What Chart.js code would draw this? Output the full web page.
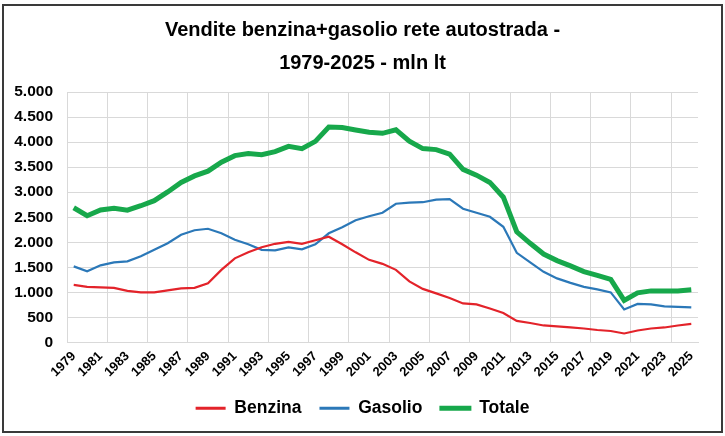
<!DOCTYPE html>
<html>
<head>
<meta charset="utf-8">
<script src="https://cdn.jsdelivr.net/npm/chart.js@4.4.1/dist/chart.umd.min.js"></script>
<style>
  html, body { margin: 0; padding: 0; background: #fff; }
</style>
</head>
<body>
<canvas id="chart" width="725" height="436"></canvas>
<script>
/* ---------- DATA ---------- */
const years = [
  1979, 1980, 1981, 1982, 1983, 1984, 1985, 1986, 1987, 1988, 1989, 1990,
  1991, 1992, 1993, 1994, 1995, 1996, 1997, 1998, 1999, 2000, 2001,
  2002, 2003, 2004, 2005, 2006, 2007, 2008, 2009, 2010, 2011, 2012, 2013,
  2014, 2015, 2016, 2017, 2018, 2019, 2020, 2021, 2022, 2023, 2024, 2025,
];
const benzina = [
  1150, 1110, 1100, 1090, 1030, 1000, 1000, 1040, 1080, 1090, 1180, 1450,
  1680, 1800, 1900, 1970, 2010, 1970, 2040, 2110, 1960, 1800, 1650,
  1570, 1450, 1220, 1070, 980, 890, 780, 760, 680, 590, 430, 390,
  340, 320, 300, 280, 250, 230, 180, 240, 280, 300, 340, 370,
];
const gasolio = [
  1520, 1420, 1540, 1600, 1620, 1720, 1850, 1980, 2150, 2240, 2270, 2180,
  2050, 1960, 1850, 1840, 1900, 1860, 1960, 2180, 2300, 2440, 2520,
  2590, 2770, 2790, 2800, 2850, 2860, 2670, 2590, 2510, 2310, 1790, 1600,
  1410, 1280, 1190, 1110, 1060, 1000, 660, 770, 760, 720, 710, 700,
];
const totale = [
  2690, 2530, 2645, 2680, 2640, 2730, 2830, 3005, 3195, 3325, 3420, 3600,
  3730, 3770, 3750, 3810, 3915, 3870, 4015, 4300, 4290, 4240, 4195,
  4175, 4245, 4020, 3870, 3850, 3760, 3455, 3340, 3195, 2900, 2210, 1980,
  1765, 1635, 1530, 1415, 1340, 1260, 840, 990, 1030, 1030, 1030, 1055,
];
const yTickLabels = [
  "0", "500", "1.000", "1.500", "2.000", "2.500",
  "3.000", "3.500", "4.000", "4.500", "5.000",
];
const titleLines = ["Vendite benzina+gasolio rete autostrada -", "1979-2025 - mln lt"];

/* ---------- STYLE ---------- */
const FONT = "'Liberation Sans', Arial, sans-serif";
const GRID = "#d9d9d9";
const RED = "#e3232a";
const BLUE = "#2b78b8";
const GREEN = "#17a84b";
const NONE = "rgba(0,0,0,0)";

// frame round the whole picture + white background
const framePlugin = {
  id: "frame",
  beforeDraw(chart) {
    const c = chart.ctx;
    c.save();
    c.fillStyle = "#fff";
    c.fillRect(0, 0, chart.width, chart.height);
    c.strokeStyle = "#3a3a3a";
    c.lineWidth = 2;
    c.strokeRect(3, 5, chart.width - 6, chart.height - 9);
    c.restore();
  },
};

const line = (label, data, color, width) => ({
  label,
  data,
  borderColor: color,
  backgroundColor: color,
  borderWidth: width,
  pointRadius: 0,
  tension: 0,
  fill: false,
  yAxisID: "y",
});

new Chart(document.getElementById("chart"), {
  type: "line",
  data: {
    labels: years,
    datasets: [
      line("Benzina", benzina, RED, 2.2),
      line("Gasolio", gasolio, BLUE, 2.2),
      line("Totale", totale, GREEN, 5),
    ],
  },
  plugins: [framePlugin],
  options: {
    responsive: false,
    animation: false,
    layout: { padding: { top: 0, left: 0, right: 0, bottom: 9 } },
    plugins: {
      title: {
        display: true,
        text: titleLines,
        color: "#000",
        font: { family: FONT, size: 20, weight: "bold", lineHeight: "33px" },
        padding: { top: 13.5, bottom: 12.5 },
      },
      legend: {
        position: "bottom",
        labels: {
          color: "#000",
          font: { family: FONT, size: 17.5, weight: "bold" },
          boxWidth: 30,
          boxHeight: 3,
          padding: 18,
          generateLabels: (chart) =>
            chart.data.datasets.map((ds, i) => ({
              text: ds.label,
              fillStyle: ds.borderColor,
              strokeStyle: ds.borderColor,
              lineWidth: ds.borderWidth > 3 ? 2 : 0,
              datasetIndex: i,
            })),
        },
      },
      tooltip: { enabled: false },
    },
    scales: {
      x: {
        offset: true,
        afterFit: (s) => { s.height = 39; },
        border: { color: GRID, width: 1 },
        grid: {
          offset: true,
          drawTicks: false,
          lineWidth: 1,
          color: (ctx) => {
            if (ctx.index === undefined) return NONE;
            return ctx.index % 3 === 0 ? GRID : NONE;
          },
        },
        ticks: {
          autoSkip: false,
          maxRotation: 45,
          minRotation: 45,
          padding: 6,
          color: "#000",
          font: { family: FONT, size: 13, weight: "bold" },
          callback: (v, i) => (i % 2 === 0 ? String(years[i]) : ""),
        },
      },
      y: {
        min: 0,
        max: 5000,
        afterFit: (s) => { s.width = 67; },
        border: { color: GRID, width: 1 },
        grid: { color: GRID, lineWidth: 1, drawTicks: false },
        ticks: {
          stepSize: 500,
          padding: 14,
          color: "#000",
          font: { family: FONT, size: 15.5, weight: "bold" },
          callback: (v, i) => yTickLabels[i],
        },
      },
      // empty right-hand margin so the legend centres on the whole picture
      yRight: {
        position: "right",
        min: 0,
        max: 5000,
        afterFit: (s) => { s.width = 27; },
        border: { display: false },
        grid: { display: false, drawTicks: false },
        ticks: { display: false },
      },
    },
  },
});
</script>
</body>
</html>
